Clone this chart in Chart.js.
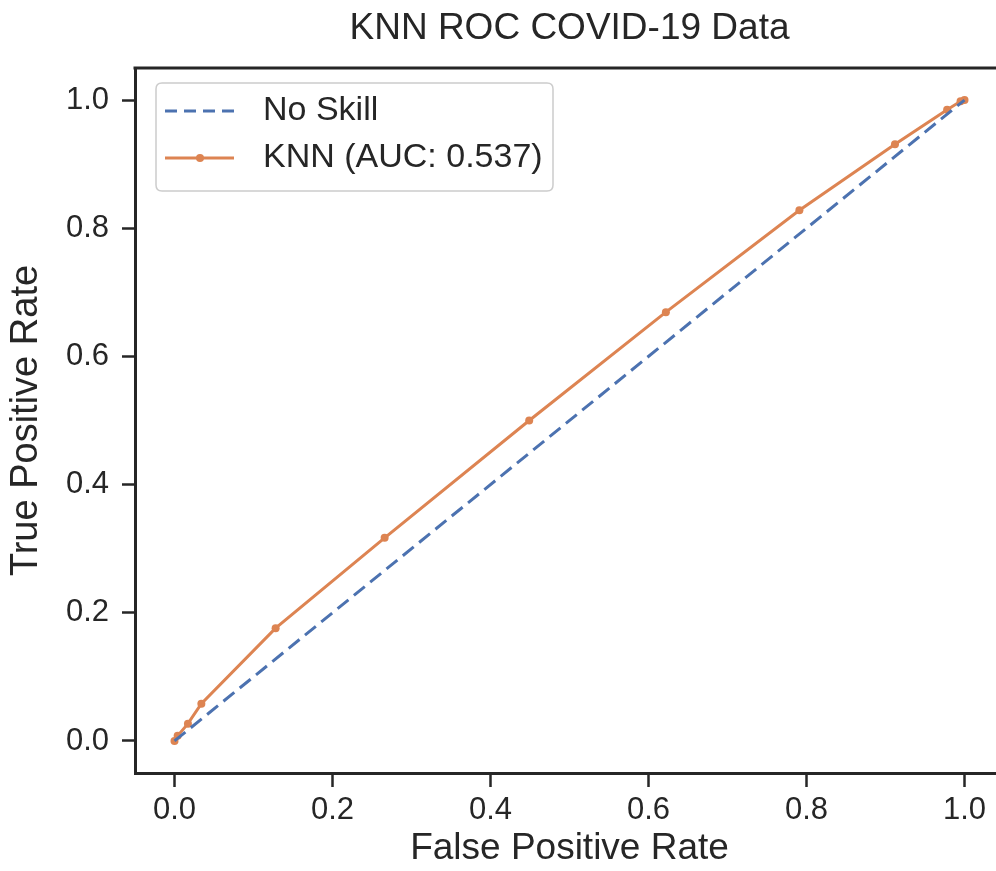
<!DOCTYPE html>
<html>
<head>
<meta charset="utf-8">
<script src="https://cdn.jsdelivr.net/npm/chart.js@4/dist/chart.umd.min.js"></script>
<style>
  html, body { margin: 0; padding: 0; background: #fff; overflow: hidden; width: 996px; height: 871px; }
  #wrap { width: 1008px; height: 871px; position: relative; }
</style>
</head>
<body>
<div id="wrap"><canvas id="c"></canvas></div>
<script>
// ---- data ----
const chartTitle = "KNN ROC COVID-19 Data";
const xAxisLabel = "False Positive Rate";
const yAxisLabel = "True Positive Rate";
const noSkillLabel = "No Skill";
const knnLabel = "KNN (AUC: 0.537)";
const noSkillX = [0, 1];
const noSkillY = [0, 1];
const knnFpr = [0, 0.004, 0.017, 0.034, 0.128, 0.266, 0.449, 0.622, 0.791, 0.912, 0.978, 0.995, 1.0];
const knnTpr = [0, 0.008, 0.027, 0.058, 0.176, 0.317, 0.500, 0.669, 0.828, 0.931, 0.985, 0.998, 1.0];
const xTicks = [0.0, 0.2, 0.4, 0.6, 0.8, 1.0];
const yTicks = [0.0, 0.2, 0.4, 0.6, 0.8, 1.0];

const BLUE = '#4c72b0';
const ORANGE = '#dd8452';
const DARK = '#262626';
const FONT = '"Liberation Sans", Arial, Helvetica, sans-serif';

const frameLegend = {
  id: 'frameLegend',
  afterDraw(chart) {
    const ctx = chart.ctx;
    const a = chart.chartArea;
    ctx.save();
    // top spine
    ctx.strokeStyle = DARK;
    ctx.lineWidth = 3;
    ctx.beginPath();
    ctx.moveTo(a.left - 1.5, a.top);
    ctx.lineTo(a.right, a.top);
    ctx.stroke();

    // title centred over the axes
    ctx.fillStyle = DARK;
    ctx.font = '37px ' + FONT;
    ctx.textAlign = 'center';
    ctx.textBaseline = 'middle';
    ctx.fillText(chartTitle, (a.left + a.right) / 2, 29);

    // legend box
    const bx = 156, by = 83, bw = 397, bh = 108, r = 6;
    ctx.beginPath();
    ctx.moveTo(bx + r, by);
    ctx.lineTo(bx + bw - r, by);
    ctx.quadraticCurveTo(bx + bw, by, bx + bw, by + r);
    ctx.lineTo(bx + bw, by + bh - r);
    ctx.quadraticCurveTo(bx + bw, by + bh, bx + bw - r, by + bh);
    ctx.lineTo(bx + r, by + bh);
    ctx.quadraticCurveTo(bx, by + bh, bx, by + bh - r);
    ctx.lineTo(bx, by + r);
    ctx.quadraticCurveTo(bx, by, bx + r, by);
    ctx.closePath();
    ctx.fillStyle = 'rgba(255,255,255,0.85)';
    ctx.fill();
    ctx.strokeStyle = '#cccccc';
    ctx.lineWidth = 1.5;
    ctx.stroke();

    // entry 1: dashed blue
    const y1 = 111, y2 = 158;
    ctx.strokeStyle = BLUE;
    ctx.lineWidth = 3;
    ctx.setLineDash([12, 7]);
    ctx.beginPath();
    ctx.moveTo(165, y1);
    ctx.lineTo(234, y1);
    ctx.stroke();
    ctx.setLineDash([]);
    // entry 2: orange line with marker
    ctx.strokeStyle = ORANGE;
    ctx.beginPath();
    ctx.moveTo(165, y2);
    ctx.lineTo(234, y2);
    ctx.stroke();
    ctx.fillStyle = ORANGE;
    ctx.beginPath();
    ctx.arc(200, y2, 4, 0, Math.PI * 2);
    ctx.fill();

    ctx.fillStyle = DARK;
    ctx.font = '34px ' + FONT;
    ctx.textBaseline = 'middle';
    ctx.textAlign = 'left';
    ctx.fillText(noSkillLabel, 263, y1);
    ctx.fillText(knnLabel, 263, y2);
    ctx.restore();
  }
};

new Chart(document.getElementById('c'), {
  type: 'scatter',
  data: {
    datasets: [
      {
        label: noSkillLabel,
        data: noSkillX.map((x, i) => ({ x: x, y: noSkillY[i] })),
        showLine: true,
        borderColor: BLUE,
        borderWidth: 3,
        borderDash: [14, 7],
        pointRadius: 0,
        fill: false
      },
      {
        label: knnLabel,
        data: knnFpr.map((x, i) => ({ x: x, y: knnTpr[i] })),
        showLine: true,
        borderColor: ORANGE,
        backgroundColor: ORANGE,
        borderWidth: 3,
        pointRadius: 4,
        pointBorderWidth: 0,
        pointBackgroundColor: ORANGE,
        fill: false
      }
    ]
  },
  options: {
    responsive: true,
    maintainAspectRatio: false,
    animation: false,
    layout: { padding: { top: 68, left: 0, right: 0, bottom: 0 } },
    plugins: {
      legend: { display: false },
      tooltip: { enabled: false },
      title: { display: false }
    },
    scales: {
      x: {
        type: 'linear',
        min: -0.05,
        max: 1.05,
        afterBuildTicks: (s) => { s.ticks = xTicks.map(v => ({ value: v })); },
        afterFit: (s) => { s.height = 98; s.paddingRight = 0; s.paddingLeft = 0; },
        grid: {
          drawOnChartArea: false,
          drawTicks: true,
          tickLength: 14,
          tickWidth: 2.5,
          tickColor: DARK
        },
        border: { display: true, color: DARK, width: 3 },
        ticks: {
          color: DARK,
          padding: 5,
          font: { family: FONT, size: 31 },
          callback: (v) => Number(v).toFixed(1),
          maxRotation: 0
        },
        title: {
          display: true,
          text: xAxisLabel,
          color: DARK,
          font: { family: FONT, size: 37, lineHeight: 1.2 },
          padding: { top: 0, bottom: 0 }
        }
      },
      y: {
        type: 'linear',
        min: -0.05,
        max: 1.05,
        afterBuildTicks: (s) => { s.ticks = yTicks.map(v => ({ value: v })); },
        afterFit: (s) => { s.width = 135; s.paddingTop = 0; s.paddingBottom = 0; },
        grid: {
          drawOnChartArea: false,
          drawTicks: true,
          tickLength: 13,
          tickWidth: 2.5,
          tickColor: DARK
        },
        border: { display: true, color: DARK, width: 3 },
        ticks: {
          color: DARK,
          padding: 13,
          font: { family: FONT, size: 31 },
          callback: (v) => Number(v).toFixed(1)
        },
        title: {
          display: true,
          text: yAxisLabel,
          color: DARK,
          font: { family: FONT, size: 38, lineHeight: 1.2 },
          padding: { top: 4, bottom: 0 }
        }
      }
    }
  },
  plugins: [frameLegend]
});
</script>
</body>
</html>
